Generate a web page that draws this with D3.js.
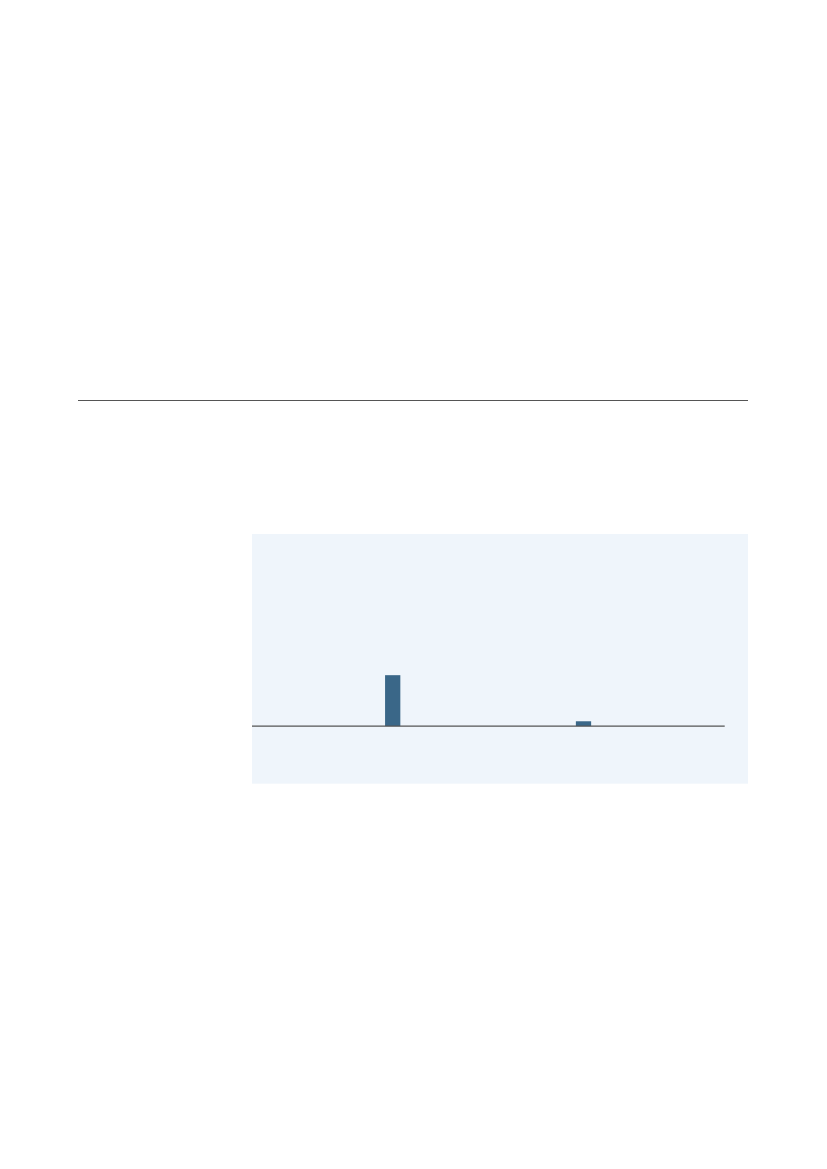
<!DOCTYPE html>
<html>
<head>
<meta charset="utf-8">
<script src="https://cdn.jsdelivr.net/npm/d3@7"></script>
<style>
  html, body { margin: 0; padding: 0; background: #ffffff; }
  svg { display: block; }
</style>
</head>
<body>
<svg id="chart" width="827" height="1169"></svg>
<script>
// categories along the x axis (no labels are printed in the picture)
const categories = ["c1", "c2", "c3", "c4", "c5"];
// bar heights
const values = [0, 1.06, 0, 0.1, 0];
// y domain of the panel
const yDomain = [-1.2, 4];

const barColor = "#3a6788";
const panelColor = "#eff5fb";
const ruleColor = "#555555";

const svg = d3.select("#chart");

// horizontal rule across the page
svg.append("line")
    .attr("x1", 78)
    .attr("x2", 748)
    .attr("y1", 400.5)
    .attr("y2", 400.5)
    .attr("stroke", ruleColor)
    .attr("stroke-width", 1.2);

const panel = { left: 252, right: 748, top: 534, bottom: 783.7 };
const baselineEnd = 724.7;

svg.append("rect")
    .attr("x", panel.left)
    .attr("y", panel.top)
    .attr("width", panel.right - panel.left)
    .attr("height", panel.bottom - panel.top)
    .attr("fill", panelColor);

const x = d3.scaleBand()
    .domain(categories)
    .range([249.6, 726.6])
    .paddingInner(0.84)
    .paddingOuter(0.42);

const y = d3.scaleLinear()
    .domain(yDomain)
    .range([panel.bottom, panel.top]);

svg.append("g")
    .selectAll("rect")
    .data(categories.map((c, i) => ({ cat: c, v: values[i] })))
    .join("rect")
    .attr("x", (d) => x(d.cat))
    .attr("width", x.bandwidth())
    .attr("y", (d) => y(Math.max(0, d.v)))
    .attr("height", (d) => Math.abs(y(d.v) - y(0)))
    .attr("fill", barColor);

// zero baseline
svg.append("line")
    .attr("x1", panel.left)
    .attr("x2", baselineEnd)
    .attr("y1", y(0))
    .attr("y2", y(0))
    .attr("stroke", ruleColor)
    .attr("stroke-width", 1.2);
</script>
</body>
</html>
